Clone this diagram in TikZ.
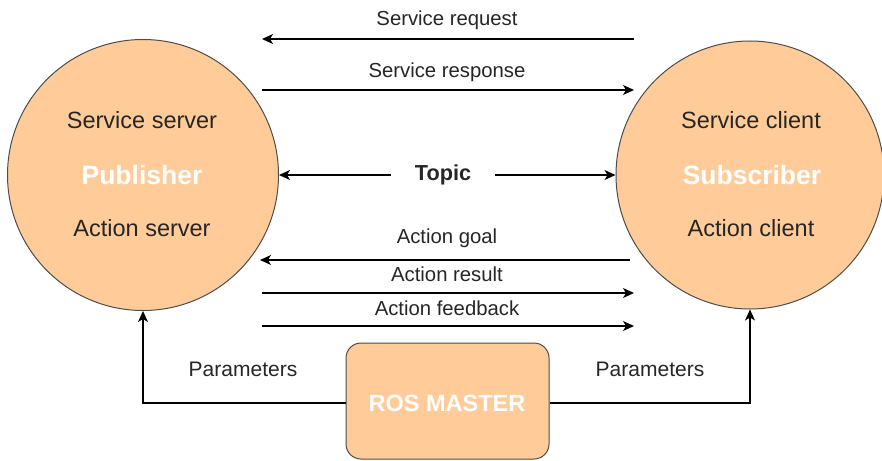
\documentclass[tikz,border=0pt]{standalone}
\usepackage{fontspec}
\setmainfont{Liberation Sans}
\usetikzlibrary{arrows.meta}
\definecolor{peach}{HTML}{FFCC99}
\definecolor{edge}{HTML}{4D4D4D}
\definecolor{txt}{HTML}{262626}
\begin{document}
\begin{tikzpicture}[x=1pt,y=-1pt,
  actor/.style={circle,draw=edge,line width=1pt,fill=peach,minimum size=#1,inner sep=0pt},
  lbl/.style={text=txt,font=\fontsize{20.3}{24}\selectfont,inner sep=0pt},
  inlbl/.style={text=txt,font=\fontsize{23.5}{28}\selectfont,inner sep=0pt},
  title/.style={text=white,font=\fontsize{26.5}{30}\selectfont\bfseries,inner sep=0pt},
  arr/.style={draw=black,line width=1.3pt,-{Stealth[length=11pt,width=10pt,inset=3pt]}},
  conn/.style={draw=black,line width=1.3pt}]
\useasboundingbox (0,0) rectangle (882,460);
% actors
\node[actor=271pt] (pub) at (143,175) {};
\node[actor=268pt] (sub) at (750,175) {};
\node[inlbl] (pss) at (142,120) {Service server};
\node[title] (ptt) at (142,175) {Publisher};
\node[inlbl] (pas) at (142,228) {Action server};
\node[inlbl] (scl) at (751,120) {Service client};
\node[title] (stt) at (752,175) {Subscriber};
\node[inlbl] (sac) at (751,228) {Action client};
% master
\node[draw=edge,line width=1pt,fill=peach,rounded corners=15pt,minimum width=203pt,minimum height=116pt,inner sep=0pt] (master) at (447.5,401) {};
\node[text=white,font=\fontsize{23.5}{28}\selectfont\bfseries,inner sep=0pt] (mt) at (447,403) {ROS MASTER};
% service arrows
\coordinate (sq1) at (634,39);  \coordinate (sq2) at (262,39);
\coordinate (sr1) at (262,90);  \coordinate (sr2) at (634,90);
\draw[arr] (sq1) -- (sq2);
\draw[arr] (sr1) -- (sr2);
\node[lbl] (lsq) at (447,20) {Service request};
\node[lbl] (lsr) at (447,72) {Service response};
% topic
\node[text=txt,font=\fontsize{21.7}{26}\selectfont\bfseries,inner ysep=0pt,inner xsep=24pt] (topic) at (443,175) {Topic};
\draw[arr] (topic.west) -- (pub.east);
\draw[arr] (topic.east) -- (sub.west);
% action arrows
\coordinate (ag1) at (630,260); \coordinate (ag2) at (260,260);
\coordinate (ar1) at (262,293); \coordinate (ar2) at (634,293);
\coordinate (af1) at (262,326); \coordinate (af2) at (634,326);
\draw[arr] (ag1) -- (ag2);
\draw[arr] (ar1) -- (ar2);
\draw[arr] (af1) -- (af2);
\node[lbl] (lag) at (447,238) {Action goal};
\node[lbl] (lar) at (447,274) {Action result};
\node[lbl] (laf) at (447,308) {Action feedback};
% parameters
\draw[arr] (master.west |- mt) -| (pub.south);
\draw[arr] (master.east |- mt) -| (sub.south);
\node[lbl,font=\fontsize{21}{25}\selectfont] (lp1) at (243,369) {Parameters};
\node[lbl,font=\fontsize{21}{25}\selectfont] (lp2) at (650,369) {Parameters};
\end{tikzpicture}
\end{document}
